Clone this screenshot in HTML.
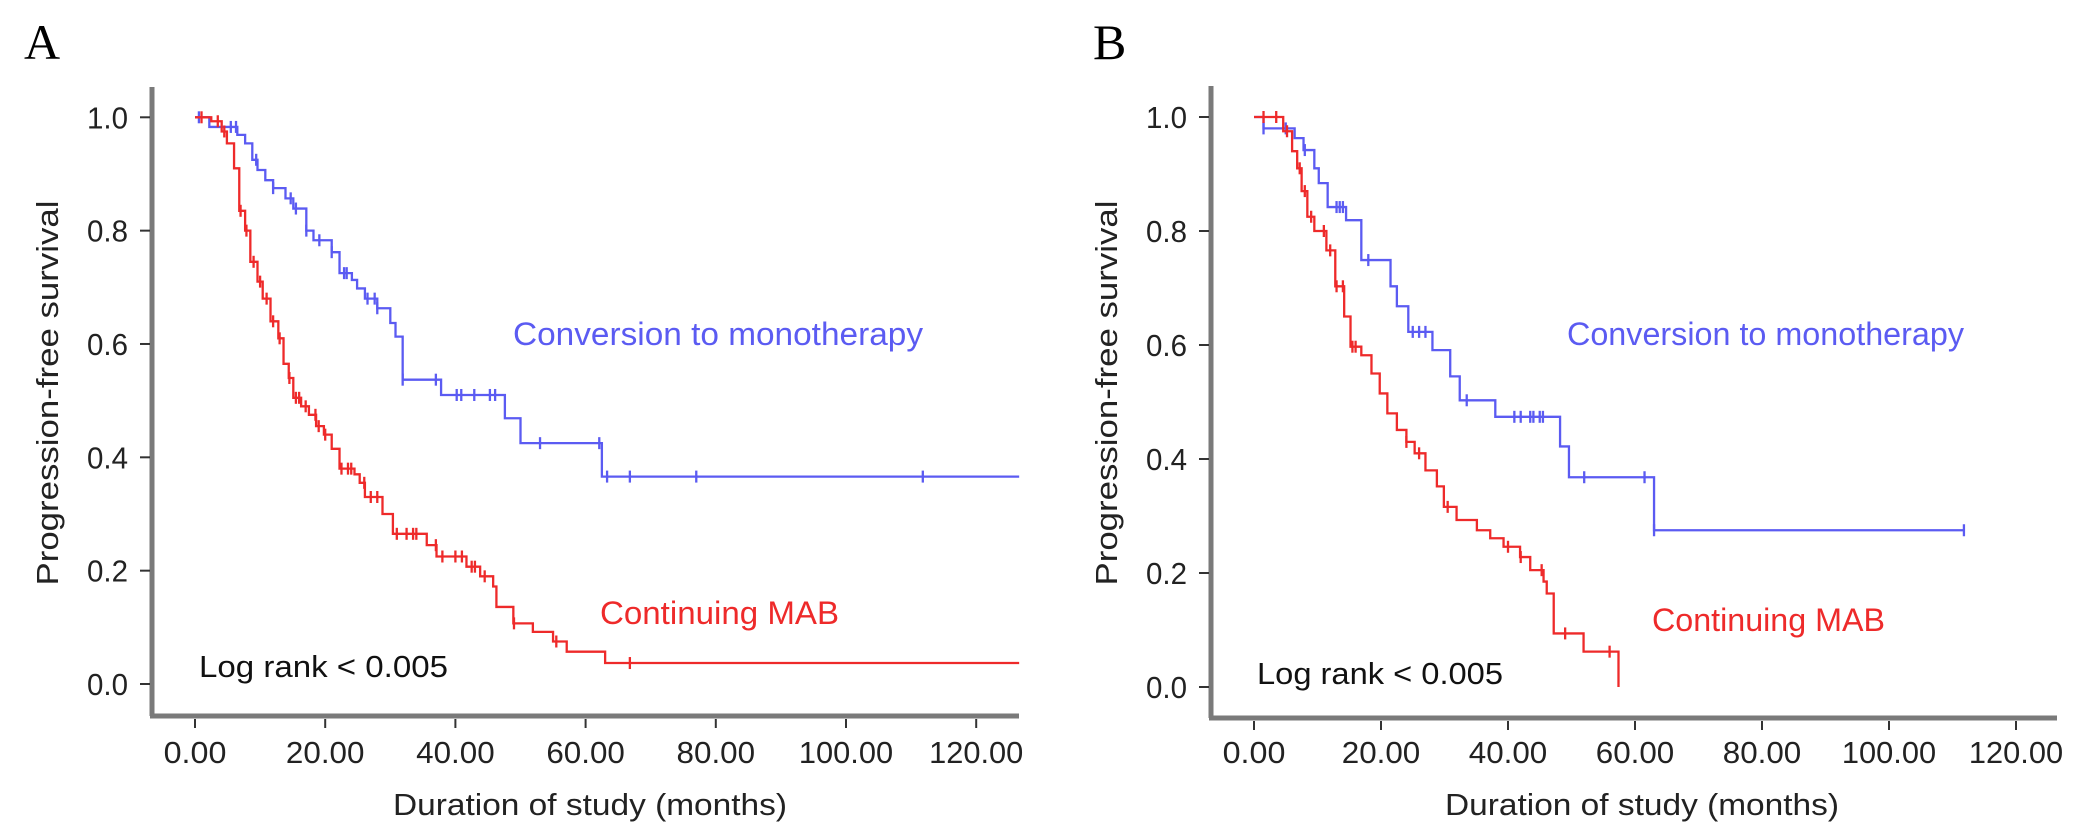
<!DOCTYPE html>
<html><head><meta charset="utf-8"><style>
html,body{margin:0;padding:0;background:#fff;}
svg{display:block;font-family:"Liberation Sans",Arial,sans-serif;}
</style></head><body>
<svg id="svg" width="2088" height="834" viewBox="0 0 2088 834" xmlns="http://www.w3.org/2000/svg">
<text x="24" y="59" font-family="Liberation Serif,serif" font-size="50">A</text>
<text x="1093" y="59" font-family="Liberation Serif,serif" font-size="50">B</text>
<g id="pa"></g>
<g id="pb"></g>
</svg>
<script>
// ---- Panel A data ----
const xTicks = [0,20,40,60,80,100,120];
const xTickLabels = ["0.00","20.00","40.00","60.00","80.00","100.00","120.00"];
const yTicks = [0,0.2,0.4,0.6,0.8,1.0];
const yTickLabels = ["0.0","0.2","0.4","0.6","0.8","1.0"];

const aBlueT = [0,2.2,6.5,7.7,8.8,9.6,10.8,12.0,13.9,15.1,17.1,18.2,21.0,22.2,24.1,24.9,26.1,28.0,30.0,30.8,31.9,37.8,47.6,50.0,62.5];
const aBlueS = [1.0,0.983,0.969,0.954,0.925,0.907,0.889,0.875,0.857,0.839,0.800,0.783,0.762,0.725,0.713,0.698,0.680,0.663,0.637,0.613,0.537,0.510,0.469,0.425,0.366];
const aBlueCens = [0.6,5.5,6.3,9.4,12.0,14.7,15.5,17.1,19.1,21.0,22.9,23.3,26.5,27.6,28.0,31.9,37.0,40.2,40.9,42.9,45.3,46.1,53.0,62.1,63.3,66.8,77.0,111.8];
const aBlueEnd = 126.6;

const aRedT = [0,2.5,4.1,4.9,6.0,6.8,7.7,8.5,9.6,10.4,11.6,12.8,13.6,14.4,15.1,16.3,17.5,18.6,19.8,21.0,22.2,24.5,25.3,26.1,28.8,30.4,35.6,37.1,41.7,43.8,45.8,46.3,48.9,51.9,55.0,57.1,63.0];
const aRedS = [1.0,0.993,0.975,0.954,0.91,0.835,0.80,0.745,0.71,0.68,0.64,0.61,0.565,0.54,0.505,0.49,0.475,0.455,0.44,0.415,0.38,0.37,0.355,0.33,0.30,0.265,0.245,0.225,0.207,0.19,0.172,0.136,0.107,0.092,0.075,0.057,0.037];
const aRedCens = [1,3.5,4.5,7,7.9,9,10,11,12,13,14.5,15.5,16,17,18.5,19,20,22.5,23.5,24,26,27,28,31,32.5,33.5,34,37,38,40,41,42.5,43,44.5,49,55.5,66.8];
const aRedEnd = 126.6;

// ---- Panel B data ----
const bBlueT = [0,1.5,6.4,7.8,9.5,10.2,11.6,14.5,16.9,21.5,22.5,24.3,28.1,30.9,32.4,38.0,48.2,49.6,63.0];
const bBlueS = [1.0,0.98,0.963,0.942,0.91,0.884,0.842,0.819,0.749,0.703,0.668,0.623,0.591,0.545,0.503,0.474,0.422,0.368,0.275];
const bBlueCens = [1.5,5,8,13,13.5,14,18,25,26,27,33.5,41,42,43.5,44,45,45.5,52,61.5,63,111.8];
const bBlueEnd = 111.8;

const bRedT = [0,4.6,6.0,6.8,7.5,8.4,9.5,11.4,12.8,14.2,15.2,16.9,18.5,19.8,21,22.5,24,25.3,27,28.8,29.9,31.9,35.1,37.2,39.3,41.9,43.5,45.6,46.1,47.2,51.9,57.4];
const bRedS = [1.0,0.975,0.94,0.91,0.87,0.825,0.80,0.766,0.703,0.65,0.597,0.582,0.55,0.515,0.48,0.451,0.43,0.41,0.38,0.352,0.316,0.293,0.275,0.261,0.246,0.228,0.205,0.185,0.164,0.094,0.062,0.0];
const bRedCens = [1.5,3.5,5.2,7.2,8,9,11,12,13,14,15.5,16,24,26,30.5,40,42,45.3,49,56];
const bRedEnd = 57.4;

const NS="http://www.w3.org/2000/svg";
function mk(parent,tag,attrs,txt){const e=document.createElementNS(NS,tag);for(const k in attrs)e.setAttribute(k,attrs[k]);if(txt!==undefined)e.textContent=txt;parent.appendChild(e);return e;}

const BLUE="#5b5bf2", RED="#ee2a2a";

function panel(g,cfg){
  const X=v=>cfg.x0+v*cfg.xs, Y=v=>cfg.y0-v*cfg.ys;
  const ya=mk(g,'line',{x1:cfg.ax,y1:cfg.top,x2:cfg.ax,y2:cfg.axy,stroke:'#7a7a7a','stroke-width':5});
  
  
  const xa=mk(g,'line',{x1:cfg.ax-2,y1:cfg.axy,x2:cfg.right,y2:cfg.axy,stroke:'#7a7a7a','stroke-width':5});
  
  
  xTicks.forEach((t,i)=>{
    const l=mk(g,'line',{x1:X(t),y1:cfg.axy+3,x2:X(t),y2:cfg.axy+12,stroke:'#333','stroke-width':2});
    
    
    const lab=xTickLabels[i];
    const tx=mk(g,'text',{x:X(t),y:763,'text-anchor':'middle','font-size':31,fill:'#222',textLength:lab.length*15.7,lengthAdjust:'spacingAndGlyphs'},lab);
    
    
  });
  yTicks.forEach((t,i)=>{
    const l=mk(g,'line',{x1:cfg.ax-12,y1:Y(t),x2:cfg.ax-2,y2:Y(t),stroke:'#333','stroke-width':2});
    
    
    const tx=mk(g,'text',{x:cfg.ax-24,y:Y(t)+11,'text-anchor':'end','font-size':31,fill:'#222',textLength:41,lengthAdjust:'spacingAndGlyphs'},yTickLabels[i]);
    
    
  });
  const yt=mk(g,'text',{x:0,y:0,transform:`translate(${cfg.ytx},393) rotate(-90)`,'text-anchor':'middle','font-size':31,fill:'#222',textLength:385,lengthAdjust:'spacingAndGlyphs'},'Progression-free survival');
  
  
  const xt=mk(g,'text',{x:cfg.xtx,y:815,'text-anchor':'middle','font-size':31,fill:'#222',textLength:394,lengthAdjust:'spacingAndGlyphs'},'Duration of study (months)');
  
  

  function curve(T,S,cens,end,color,name){
    let d=`M${X(T[0])},${Y(S[0])}`;
    for(let i=1;i<T.length;i++){d+=` H${X(T[i])} V${Y(S[i])}`;}
    if(end>T[T.length-1]) d+=` H${X(end)}`;
    const p=mk(g,'path',{d:d,fill:'none',stroke:color,'stroke-width':2.3});
    
    
    cens.forEach(c=>{
      let s=S[0];for(let i=0;i<T.length;i++){if(T[i]<=c)s=S[i];}
      const m=mk(g,'line',{x1:X(c),y1:Y(s)-6,x2:X(c),y2:Y(s)+6,stroke:color,'stroke-width':2.3});
      
      
    });
  }
  curve(cfg.bt,cfg.bs,cfg.bc,cfg.be,BLUE,'monotherapy');
  curve(cfg.rt,cfg.rs,cfg.rc,cfg.re,RED,'continuing-mab');

  const l1=mk(g,'text',{x:cfg.convX,y:345,'font-size':32,fill:BLUE,textLength:cfg.convW,lengthAdjust:'spacingAndGlyphs'},'Conversion to monotherapy');
  
  
  const l2=mk(g,'text',{x:cfg.mabX,y:cfg.mabY,'font-size':32,fill:RED,textLength:cfg.mabW,lengthAdjust:'spacingAndGlyphs'},'Continuing MAB');
  
  
  const l3=mk(g,'text',{x:cfg.lrX,y:cfg.lrY,'font-size':31,fill:'#111',textLength:cfg.lrW,lengthAdjust:'spacingAndGlyphs'},'Log rank < 0.005');
  
  
}

panel(document.getElementById('pa'),{x0:195,xs:6.51,y0:684,ys:566.7,ax:152,top:87,axy:716,right:1019,ytx:58,xtx:590,
  bt:aBlueT,bs:aBlueS,bc:aBlueCens,be:aBlueEnd,rt:aRedT,rs:aRedS,rc:aRedCens,re:aRedEnd,
  convX:513,convW:410,mabX:600,mabY:624,mabW:239,lrX:199,lrY:677,lrW:249});
panel(document.getElementById('pb'),{x0:1254,xs:6.35,y0:687,ys:570,ax:1211,top:86,axy:718,right:2057,ytx:1117,xtx:1642,
  bt:bBlueT,bs:bBlueS,bc:bBlueCens,be:bBlueEnd,rt:bRedT,rs:bRedS,rc:bRedCens,re:bRedEnd,
  convX:1567,convW:397,mabX:1652,mabY:631,mabW:233,lrX:1257,lrY:684,lrW:246});
</script>
</body></html>
